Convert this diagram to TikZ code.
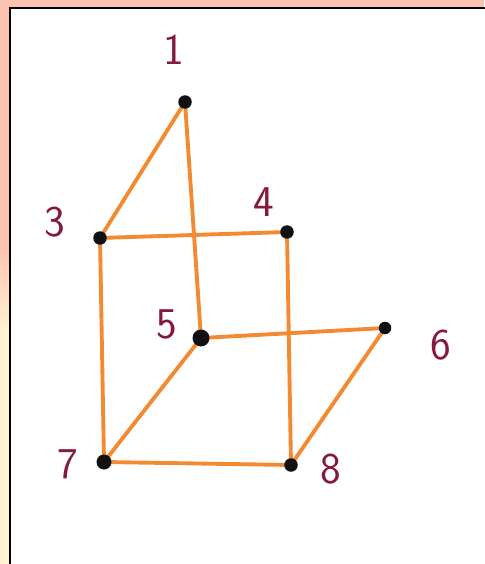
\documentclass[tikz,border=0pt]{standalone}
\usepackage{xcolor}
\usetikzlibrary{calc, backgrounds}
\definecolor{frameC}{HTML}{FFC3B1}
\definecolor{creamC}{HTML}{FFF3D2}
\definecolor{edgeC}{HTML}{F28A32}
\definecolor{labelC}{HTML}{84193A}
\definecolor{dotC}{HTML}{111111}

\begin{document}
\begin{tikzpicture}[
  x=0.02cm,
  y=-0.02cm,
  line cap=round,
  line join=round,
  vertex/.style={circle, fill=dotC, inner sep=0pt, minimum size=0.27cm},
  numlabel/.style={text=labelC, font=\sffamily\fontsize{25}{25}\selectfont, inner sep=1pt},
  link/.style={edgeC, line width=2.2pt}
]
\useasboundingbox (0,0) rectangle (484,564);

% Vertices
\node[vertex] (v1) at (185,102) {};
\node[vertex] (v3) at (100,238) {};
\node[vertex] (v4) at (287,232) {};
\node[vertex, minimum size=0.34cm] (v5) at (201,338) {};
\node[vertex, minimum size=0.25cm] (v6) at (385,328) {};
\node[vertex, minimum size=0.3cm] (v7) at (104,462) {};
\node[vertex] (v8) at (291,465) {};

% Hand-written numbers
\node[numlabel] (l1) at (174,50) {1};
\node[numlabel] (l3) at (55,222) {3};
\node[numlabel] (l4) at (264,202) {4};
\node[numlabel] (l5) at (167,324) {5};
\node[numlabel] (l6) at (441,345) {6};
\node[numlabel] (l7) at (68,464) {7};
\node[numlabel] (l8) at (331,469) {8};

\begin{scope}[on background layer]
  % Slide frame
  \fill[frameC] (0,0) rectangle (484,564);
  \shade[top color=frameC, bottom color=creamC] (0,250) rectangle (12,330);
  \fill[creamC] (0,330) rectangle (12,564);
  \fill[white] (10,8) rectangle (490,570);
  \draw[black, line width=1.6pt] (10,570) -- (10,8) -- (490,8);

  % Edges
  \foreach \a/\b in {v1/v3, v1/v5, v3/v4, v3/v7, v4/v8, v5/v6, v5/v7, v6/v8, v7/v8}{
    \draw[link] (\a.center) -- (\b.center);
  }
\end{scope}

\end{tikzpicture}
\end{document}
